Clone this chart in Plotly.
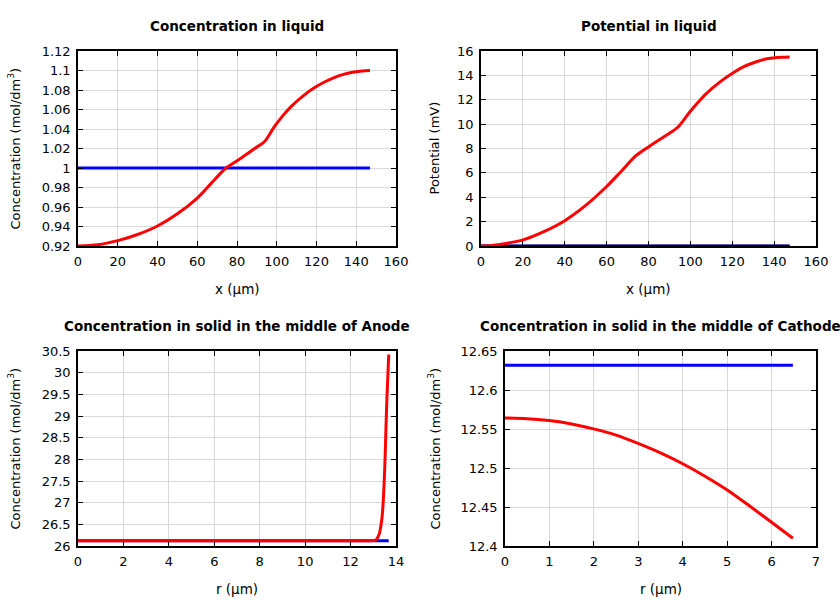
import plotly.graph_objects as go

# ---- data ----
liq_x = [0, 10, 20, 30, 40, 50, 60, 67, 73.9, 78.9, 83.9, 88.9, 93.9, 98.9, 103, 107.2, 113, 118.9, 124, 128.9, 134, 138.9, 143, 146.9]
liq_c = [0.92, 0.9213, 0.9255, 0.9318, 0.9405, 0.9530, 0.9692, 0.9842, 0.9990, 1.0058, 1.0128, 1.0200, 1.0272, 1.0427, 1.0535, 1.0630, 1.0735, 1.0822, 1.0882, 1.0928, 1.0963, 1.0985, 1.0996, 1.1]
liq_c0 = [1.0] * len(liq_x)

pot_x = [0, 5, 11.2, 20, 30, 40, 50, 60, 66.8, 74, 79.6, 85, 90, 94, 99.6, 103.5, 107.6, 114, 120.3, 126, 131.5, 135.5, 139.4, 143.5, 147.4]
pot_v = [0, 0.05, 0.19, 0.5, 1.18, 2.08, 3.33, 4.88, 6.1, 7.41, 8.09, 8.7, 9.25, 9.74, 10.97, 11.75, 12.5, 13.45, 14.2, 14.75, 15.12, 15.32, 15.43, 15.48, 15.5]
pot_v0 = [0.0] * len(pot_x)

an_r = [0, 2, 4, 6, 8, 10, 12, 12.8, 13.0, 13.12, 13.2, 13.27, 13.33, 13.39, 13.44, 13.49, 13.53, 13.56, 13.6, 13.64, 13.68]
an_c = [26.12, 26.12, 26.12, 26.12, 26.12, 26.12, 26.12, 26.12, 26.125, 26.14, 26.2, 26.29, 26.45, 26.68, 27.05, 27.6, 28.2, 28.76, 29.4, 29.9, 30.42]
an_c0 = [26.12] * len(an_r)

ca_r = [0, 0.5, 0.99, 1.5, 1.97, 2.5, 2.98, 3.5, 4.0, 4.5, 5.01, 5.5, 6.03, 6.48]
ca_c = [12.5642, 12.5633, 12.5608, 12.5565, 12.5505, 12.5422, 12.5320, 12.5195, 12.5055, 12.4895, 12.4715, 12.4515, 12.4292, 12.41]
ca_c0 = [12.6316] * len(ca_r)

titles = ["Concentration in liquid", "Potential in liquid",
          "Concentration in solid in the middle of Anode",
          "Concentration in solid in the middle of Cathode"]
xtitles = ["x (µm)", "x (µm)", "r (µm)", "r (µm)"]
ytitles = ["Concentration (mol/dm<sup>3</sup>)", "Potential (mV)",
           "Concentration (mol/dm<sup>3</sup>)", "Concentration (mol/dm<sup>3</sup>)"]

liq_yt = [0.92, 0.94, 0.96, 0.98, 1.0, 1.02, 1.04, 1.06, 1.08, 1.1, 1.12]
liq_ytt = ["0.92", "0.94", "0.96", "0.98", "1", "1.02", "1.04", "1.06", "1.08", "1.1", "1.12"]
an_yt = [26, 26.5, 27, 27.5, 28, 28.5, 29, 29.5, 30, 30.5]
an_ytt = ["26", "26.5", "27", "27.5", "28", "28.5", "29", "29.5", "30", "30.5"]
ca_yt = [12.4, 12.45, 12.5, 12.55, 12.6, 12.65]
ca_ytt = ["12.4", "12.45", "12.5", "12.55", "12.6", "12.65"]

W, H = 840, 600
# plot boxes in page pixels: (left, right, top, bottom)
boxes = [(78, 396, 51, 246), (481, 816, 51, 246), (78, 396, 351, 546), (505, 816, 351, 546)]

fig = go.Figure()
BLUE = "#0000ff"
RED = "#ff0000"

def add(x, y, color, k, w=3):
    sfx = "" if k == 0 else str(k + 1)
    fig.add_trace(go.Scatter(x=x, y=y, mode="lines", line=dict(color=color, width=w, shape="spline", smoothing=0.8),
                             xaxis="x" + sfx, yaxis="y" + sfx, showlegend=False, hoverinfo="skip"))

add(liq_x, liq_c0, BLUE, 0)
add(liq_x, liq_c, RED, 0)
add(pot_x, pot_v0, BLUE, 1)
add(pot_x, pot_v0, "#000000", 1, 2.5)
add(pot_x, pot_v, RED, 1)
add(an_r, an_c0, BLUE, 2)
add(an_r, an_c, RED, 2)
add(ca_r, ca_c0, BLUE, 3)
add(ca_r, ca_c, RED, 3)

xranges = [[0, 160], [0, 160], [0, 14], [0, 7]]
xdt = [20, 20, 2, 1]
yranges = [[0.92, 1.12], [0, 16], [26, 30.5], [12.4, 12.65]]

FONT = "DejaVu Sans"
axcommon = dict(showline=True, linecolor="black", linewidth=1.5, mirror="allticks", ticks="inside",
                ticklen=5, tickcolor="black", showgrid=True, gridcolor="#d9d9d9", gridwidth=1,
                zeroline=False, automargin=False, tickfont=dict(family=FONT, size=13, color="black"))

ann = []
for k, (l, r, t, b) in enumerate(boxes):
    sfx = "" if k == 0 else str(k + 1)
    xa = dict(axcommon, domain=[l / W, r / W], range=xranges[k], dtick=xdt[k], tick0=0,
              anchor="y" + sfx, ticklabelstandoff=3)
    ya = dict(axcommon, domain=[1 - b / H, 1 - t / H], range=yranges[k], anchor="x" + sfx,
              ticklabelstandoff=3)
    if k == 0:
        ya.update(tickmode="array", tickvals=liq_yt, ticktext=liq_ytt)
    elif k == 1:
        ya.update(dtick=2, tick0=0)
    elif k == 2:
        ya.update(tickmode="array", tickvals=an_yt, ticktext=an_ytt)
    else:
        ya.update(tickmode="array", tickvals=ca_yt, ticktext=ca_ytt)
    fig.layout["xaxis" + sfx] = xa
    fig.layout["yaxis" + sfx] = ya
    cx = (l + r) / 2
    ann.append(dict(text="<b>" + titles[k] + "</b>", x=cx / W, y=1 - (t - 25) / H, xref="paper", yref="paper",
                    showarrow=False, font=dict(family=FONT, size=13.5, color="black"), xanchor="center", yanchor="middle"))
    ann.append(dict(text=xtitles[k], x=cx / W, y=1 - (b + 43) / H, xref="paper", yref="paper",
                    showarrow=False, font=dict(family=FONT, size=13.5, color="black"), xanchor="center", yanchor="middle"))
    yx = 14 if k in (0, 2) else 434
    ann.append(dict(text=ytitles[k], x=yx / W, y=1 - ((t + b) / 2) / H, xref="paper", yref="paper",
                    showarrow=False, textangle=-90, font=dict(family=FONT, size=13, color="black"),
                    xanchor="center", yanchor="middle"))

fig.update_layout(width=W, height=H, margin=dict(l=0, r=0, t=0, b=0, autoexpand=False), plot_bgcolor="white",
                  paper_bgcolor="white", annotations=ann, showlegend=False)

fig.write_html("out.html", config={"displayModeBar": False},
               post_script="document.body.style.margin='0';document.body.style.overflow='hidden';")
